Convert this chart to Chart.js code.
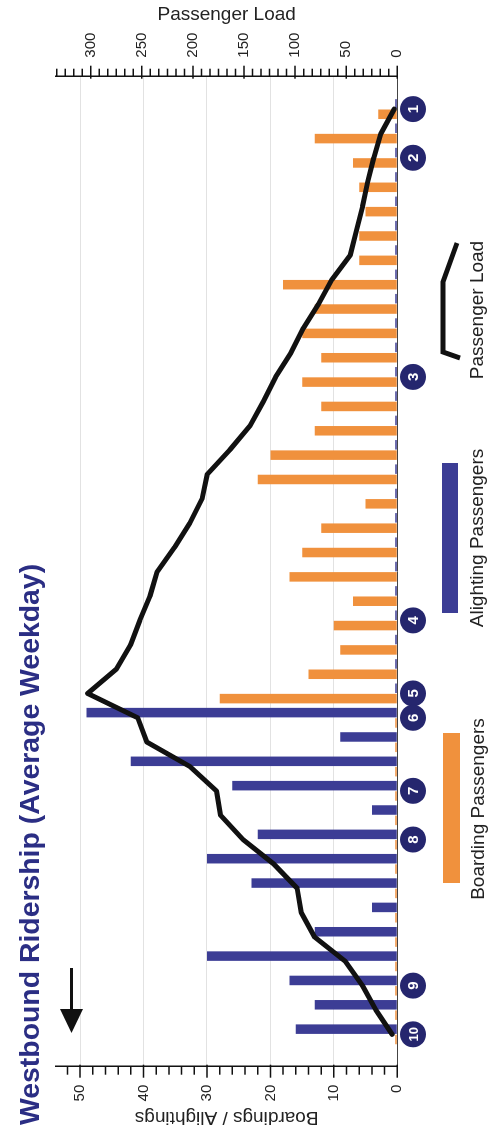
<!DOCTYPE html>
<html>
<head>
<meta charset="utf-8">
<title>Westbound Ridership</title>
<script src="https://cdn.jsdelivr.net/npm/chart.js@4.4.1/dist/chart.umd.min.js"></script>
<style>
  html, body { margin: 0; padding: 0; background: #fff; overflow: hidden; }
  /* chart is laid out landscape, then turned a quarter to fit the tall page */
  #wrap {
    position: absolute; left: 0; top: 0;
    width: 1133px; height: 498px;
    transform-origin: 0 0;
    transform: translateY(1133px) rotate(-90deg);
  }
</style>
</head>
<body>
<div id="wrap"><canvas id="chart" width="1133" height="498"></canvas></div>
<script>
// positions along the route, in travel order (stop 1 first)
var stopLabels = ['1', '', '2', '', '', '', '', '', '', '', '', '3', '', '', '', '', '', '', '', '',
                  '', '4', '', '', '5', '6', '', '', '7', '', '8', '', '', '', '', '', '9', '', '10'];

var boarding = [3, 13, 7, 6, 5, 6, 6, 18, 13, 15, 12, 15, 12, 13, 20, 22, 5, 12, 15, 17,
                7, 10, 9, 14, 28, 0, 0, 0, 0, 0, 0, 0, 0, 0, 0, 0, 0, 0, 0];

var alighting = [0, 0, 0, 0, 0, 0, 0, 0, 0, 0, 0, 0, 0, 0, 0, 0, 0, 0, 0, 0,
                 0, 0, 0, 0, 0, 49, 9, 42, 26, 4, 22, 30, 23, 4, 13, 30, 17, 13, 16];

var passengerLoad = [3, 16, 23, 29, 34, 40, 46, 64, 77, 92, 104, 119, 131, 144, 164, 186, 191, 203, 218, 235,
                     242, 252, 261, 275, 303, 254, 245, 203, 177, 173, 151, 121, 98, 94, 81, 51, 34, 21, 5];

var boardTicks = [0, 10, 20, 30, 40, 50];
var loadTicks = [0, 50, 100, 150, 200, 250, 300];

var NAVY = '#25266e';
var ORANGE = '#f0913d';
var BLUE = '#3c3d95';
var FONT = '"Liberation Sans", Arial, sans-serif';

Chart.defaults.font.family = FONT;
Chart.defaults.color = '#222';

function toPoints(arr) {
  return arr.map(function(v, i) { return { x: i, y: v }; });
}

// title, arrow, stop markers, minor ticks and the legend
var decor = {
  id: 'decor',
  afterDraw: function(chart) {
    var ctx = chart.ctx;
    var xs = chart.scales.x, yl = chart.scales.y, yr = chart.scales.load;
    var i, p, major;
    ctx.save();

    // tick marks
    ctx.strokeStyle = '#111';
    ctx.lineWidth = 1.5;
    ctx.beginPath();
    for (i = 0; i * 2 <= yl.max; i++) {
      p = yl.getPixelForValue(i * 2);
      major = i % 5 === 0;
      ctx.moveTo(yl.right + (major ? 2 : 0), p);
      ctx.lineTo(yl.right - (major ? 11 : 8), p);
    }
    for (i = 0; i * 50 / 6 <= yr.max; i++) {
      p = yr.getPixelForValue(i * 50 / 6);
      major = i % 6 === 0;
      ctx.moveTo(yr.left - (major ? 2 : 0), p);
      ctx.lineTo(yr.left + (major ? 11 : 8), p);
    }
    ctx.stroke();

    // stop markers
    stopLabels.forEach(function(s, idx) {
      if (!s) return;
      var cx = xs.getPixelForValue(idx), cy = 413;
      ctx.fillStyle = NAVY;
      ctx.beginPath();
      ctx.arc(cx, cy, 13, 0, Math.PI * 2);
      ctx.fill();
      ctx.fillStyle = '#fff';
      ctx.font = 'bold ' + (s.length > 1 ? 13 : 15) + 'px ' + FONT;
      ctx.textAlign = 'center';
      ctx.textBaseline = 'middle';
      ctx.fillText(s, cx, cy + 1);
    });

    // title
    ctx.fillStyle = '#2b2e84';
    ctx.font = 'bold 28.4px ' + FONT;
    ctx.textAlign = 'left';
    ctx.textBaseline = 'alphabetic';
    ctx.fillText('Westbound Ridership (Average Weekday)', 8, 39);

    // direction arrow
    ctx.fillStyle = '#111';
    ctx.fillRect(122, 70, 43, 3);
    ctx.beginPath();
    ctx.moveTo(100, 71.5);
    ctx.lineTo(124, 60);
    ctx.lineTo(124, 83);
    ctx.closePath();
    ctx.fill();

    // legend
    var ds = chart.data.datasets;
    ctx.font = '19px ' + FONT;
    ctx.textAlign = 'center';
    ctx.fillStyle = ds[1].backgroundColor;
    ctx.fillRect(250, 443, 150, 17);
    ctx.fillStyle = ds[2].backgroundColor;
    ctx.fillRect(520, 442, 150, 16);
    ctx.strokeStyle = ds[0].borderColor;
    ctx.lineWidth = 5;
    ctx.beginPath();
    ctx.moveTo(775, 460);
    ctx.lineTo(781, 443);
    ctx.lineTo(851, 443);
    ctx.lineTo(890, 457);
    ctx.stroke();
    ctx.fillStyle = '#222';
    ctx.fillText(ds[1].label, 324, 484);
    ctx.fillText(ds[2].label, 595, 483);
    ctx.fillText(ds[0].label, 823, 483);

    ctx.restore();
  }
};

new Chart(document.getElementById('chart'), {
  type: 'bar',
  data: {
    datasets: [
      {
        type: 'line',
        label: 'Passenger Load',
        data: toPoints(passengerLoad),
        yAxisID: 'load',
        borderColor: '#111',
        borderWidth: 5,
        pointRadius: 0,
        tension: 0,
        borderJoinStyle: 'round',
        borderCapStyle: 'round',
        order: 0
      },
      {
        label: 'Boarding Passengers',
        data: toPoints(boarding),
        backgroundColor: ORANGE,
        yAxisID: 'y',
        order: 1
      },
      {
        label: 'Alighting Passengers',
        data: toPoints(alighting),
        backgroundColor: BLUE,
        yAxisID: 'y',
        order: 1
      }
    ]
  },
  options: {
    responsive: false,
    animation: false,
    layout: { padding: { top: 56, bottom: 100.7, left: 0, right: 0 } },
    datasets: {
      bar: { categoryPercentage: 0.85, barPercentage: 0.92, minBarLength: 2 }
    },
    plugins: {
      legend: { display: false },
      tooltip: { enabled: false }
    },
    scales: {
      x: {
        type: 'linear',
        reverse: true,
        offset: false,
        min: -1.33,
        max: 39.33,
        ticks: { display: false },
        grid: { drawOnChartArea: false, drawTicks: false, offset: false },
        border: { color: '#444', width: 1 },
        afterFit: function(s) { s.height = 0; }
      },
      y: {
        position: 'left',
        min: 0,
        max: 53.8,
        afterBuildTicks: function(s) {
          s.ticks = boardTicks.map(function(v) { return { value: v }; });
        },
        ticks: { padding: 18, font: { size: 15 } },
        grid: {
          drawTicks: false,
          color: function(c) { return c.tick && c.tick.value === 0 ? 'rgba(0,0,0,0)' : '#e2e2e2'; }
        },
        border: { color: '#111', width: 1.5 },
        title: {
          display: true,
          text: 'Boardings / Alightings',
          font: { size: 19 },
          padding: { top: 4.3, bottom: 0 }
        },
        afterFit: function(s) { s.width = 66.3; }
      },
      load: {
        position: 'right',
        min: 0,
        max: 334,
        afterBuildTicks: function(s) {
          s.ticks = loadTicks.map(function(v) { return { value: v }; });
        },
        ticks: { padding: 19, font: { size: 15 } },
        grid: { drawOnChartArea: false, drawTicks: false },
        border: { color: '#111', width: 1.5 },
        title: {
          display: true,
          text: 'Passenger Load',
          font: { size: 19 },
          padding: { top: 3.6, bottom: 0 }
        },
        afterFit: function(s) { s.width = 76.7; }
      }
    }
  },
  plugins: [decor]
});
</script>
</body>
</html>
